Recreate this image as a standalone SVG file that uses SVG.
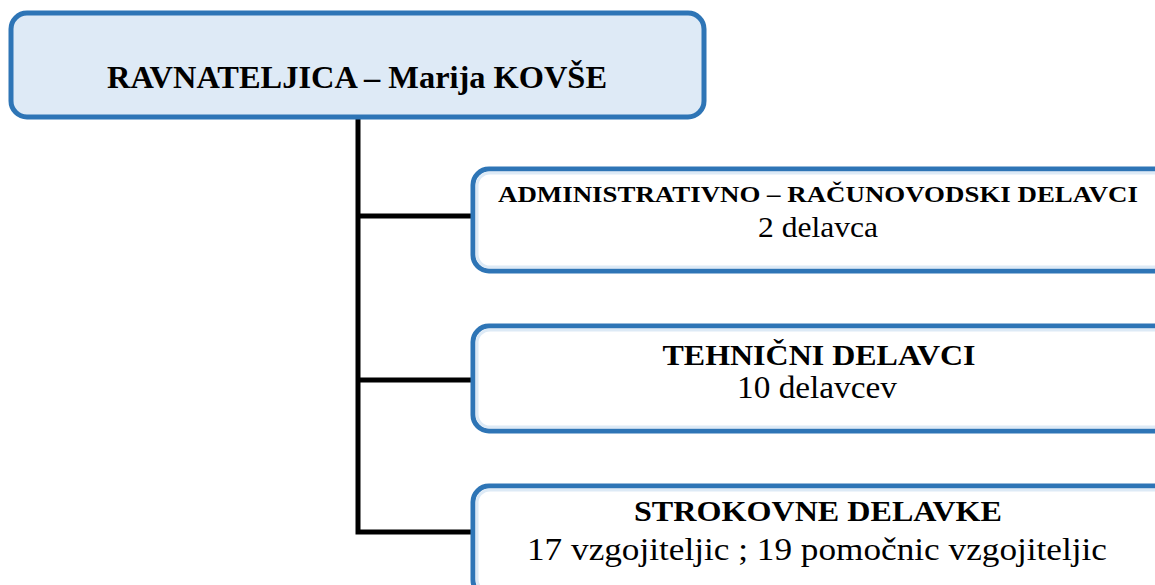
<svg xmlns="http://www.w3.org/2000/svg" width="1155" height="585" viewBox="0 0 1155 585">
<style>
.box{stroke:#2E75B6;stroke-width:5}
.top{fill:#DEEAF6}
.child{fill:#FFFFFF}
.inner{fill:none;stroke:#DDEAF6;stroke-width:3}
.t{font-family:'Liberation Serif',serif;fill:#000;text-anchor:middle}
.b{font-weight:bold}
.conn{stroke:#000;stroke-width:5;fill:none}
</style>
<g id="connectors">
<path class="conn" d="M358,118 V532 H472"/>
<path class="conn" d="M358,216 H472"/>
<path class="conn" d="M358,380 H472"/>
</g>
<g id="n-ravnateljica">
<rect class="box top" x="11" y="13" width="693" height="104" rx="16"/>
<text class="t b" x="357" y="88" font-size="31" textLength="500" lengthAdjust="spacingAndGlyphs">RAVNATELJICA – Marija KOVŠE</text>
</g>
<g id="n-admin">
<rect class="box child" x="473" y="169" width="700" height="102" rx="16"/>
<rect class="inner" x="477" y="173" width="692" height="94" rx="13"/>
<text class="t b" x="818" y="202" font-size="24" textLength="640" lengthAdjust="spacingAndGlyphs">ADMINISTRATIVNO – RAČUNOVODSKI DELAVCI</text>
<text class="t" x="818" y="237" font-size="30" textLength="120" lengthAdjust="spacingAndGlyphs">2 delavca</text>
</g>
<g id="n-tehnicni">
<rect class="box child" x="473" y="326" width="700" height="105" rx="16"/>
<rect class="inner" x="477" y="330" width="692" height="97" rx="13"/>
<text class="t b" x="819" y="365" font-size="30" textLength="313" lengthAdjust="spacingAndGlyphs">TEHNIČNI DELAVCI</text>
<text class="t" x="817" y="398" font-size="31" textLength="160" lengthAdjust="spacingAndGlyphs">10 delavcev</text>
</g>
<g id="n-strokovne">
<rect class="box child" x="473" y="486" width="700" height="110" rx="16"/>
<rect class="inner" x="477" y="490" width="692" height="102" rx="13"/>
<text class="t b" x="818" y="521" font-size="30" textLength="368" lengthAdjust="spacingAndGlyphs">STROKOVNE DELAVKE</text>
<text class="t" x="817" y="560" font-size="31" textLength="580" lengthAdjust="spacingAndGlyphs">17 vzgojiteljic ; 19 pomočnic vzgojiteljic</text>
</g>
</svg>
